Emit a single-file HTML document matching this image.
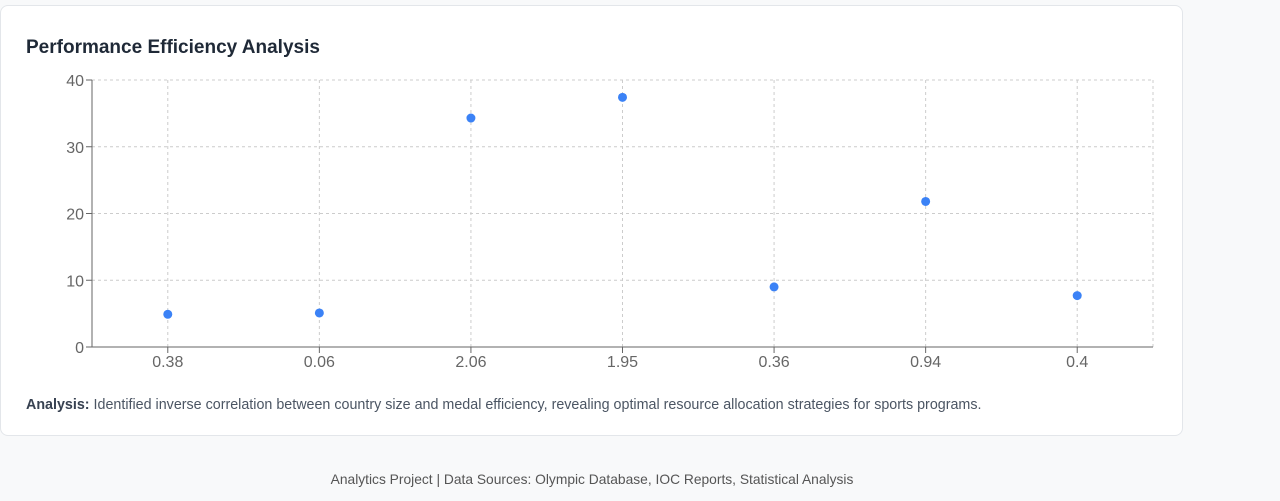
<!DOCTYPE html>
<html><head><meta charset="utf-8"><style>
body{margin:0;background:#f8f9fa;font-family:"Liberation Sans",sans-serif;width:1280px;height:501px;overflow:hidden;position:relative}
.card{position:absolute;left:0;top:5px;width:1183px;height:431px;background:#fff;border:1px solid #e3e6ea;border-radius:8px;box-sizing:border-box}
h2{position:absolute;left:25px;top:31px;margin:0;font-size:19px;font-weight:bold;color:#1f2937}
.note{position:absolute;left:25px;top:391px;font-size:14.3px;color:#4b5563;white-space:nowrap}
.note b{color:#374151}
.foot{position:absolute;left:0;width:1184px;top:472px;text-align:center;font-size:13.8px;color:#555}
svg{position:absolute;left:0;top:0}
</style></head><body>
<div class="card">
<h2>Performance Efficiency Analysis</h2>
<div class="note"><b>Analysis:</b> Identified inverse correlation between country size and medal efficiency, revealing optimal resource allocation strategies for sports programs.</div>
</div>
<svg id="chart" width="1280" height="501"></svg>
<div class="foot">Analytics Project | Data Sources: Olympic Database, IOC Reports, Statistical Analysis</div>
<script>
const categories=["0.38","0.06","2.06","1.95","0.36","0.94","0.4"];
const values=[4.9,5.1,34.3,37.4,9.0,21.8,7.7];
const yTicks=[0,10,20,30,40];
const L=92,R=1153,T=80,B=347,yMax=40;
const bw=(R-L)/categories.length;
const x=i=>L+bw*(i+0.5);
const y=v=>B-(v/yMax)*(B-T);
const svg=document.getElementById('chart');
const NS='http://www.w3.org/2000/svg';
function mk(t,a){const e=document.createElementNS(NS,t);for(const k in a)e.setAttribute(k,a[k]);svg.appendChild(e);return e;}
yTicks.forEach(v=>{
 if(v>0){const g=mk('line',{x1:L,x2:R,y1:y(v),y2:y(v),stroke:'#ccc','stroke-dasharray':'3 3'});
 
 }
 const tk=mk('line',{x1:L-6,x2:L,y1:y(v),y2:y(v),stroke:'#666'});
 
 
 const t=mk('text',{x:L-8,y:y(v)+6,'text-anchor':'end','font-size':16,fill:'#666'});
 t.textContent=v;
 
 
});
const rg=mk('line',{x1:R,x2:R,y1:T,y2:B,stroke:'#ccc','stroke-dasharray':'3 3'});


categories.forEach((c,i)=>{
 const g=mk('line',{x1:x(i),x2:x(i),y1:T,y2:B,stroke:'#ccc','stroke-dasharray':'3 3'});
 
 
 const tk=mk('line',{x1:x(i),x2:x(i),y1:B,y2:B+6,stroke:'#666'});
 
 
 const t=mk('text',{x:x(i),y:B+20,'text-anchor':'middle','font-size':16,fill:'#666'});
 t.textContent=c;
 
 
});
const ya=mk('line',{x1:L,x2:L,y1:T,y2:B,stroke:'#666'});


const xa=mk('line',{x1:L,x2:R,y1:B,y2:B,stroke:'#666'});


values.forEach((v,i)=>{
 const p=mk('circle',{cx:x(i),cy:y(v),r:4.5,fill:'#3b82f6'});
 
 
});
</script>
</body></html>
